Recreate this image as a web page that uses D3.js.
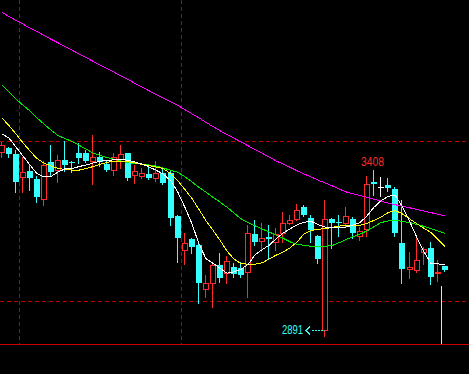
<!DOCTYPE html>
<html>
<head>
<meta charset="utf-8">
<script src="https://cdn.jsdelivr.net/npm/d3@7"></script>
<style>
html, body { margin: 0; padding: 0; background: #000; overflow: hidden; }
svg { display: block; }
</style>
</head>
<body>
<svg id="chart" width="469" height="374"></svg>
<script>
// K线数据 (读自图片)
const opens  = [3466,3478,3459,3388,3406,3381,3319,3434,3409,3441,3434,3462,3462,3438,3450,3428,3409,3444,3462,3394,3391,3397,3384,3400,3400,3266,3159,3194,3175,3038,3056,3113,3088,3106,3103,3091,3209,3188,3200,3184,3213,3244,3256,3294,3259,3203,2909,3256,3248,3244,3256,3203,3225,3372,3356,3362,3350,3181,3100,3097,3153,3166,3088,3109];
const highs  = [3497,3481,3472,3450,3428,3391,3438,3487,3456,3500,3438,3494,3472,3519,3466,3441,3462,3487,3462,3425,3416,3425,3438,3419,3406,3269,3213,3197,3178,3081,3116,3150,3141,3119,3122,3238,3253,3244,3238,3228,3278,3269,3303,3300,3269,3206,3316,3259,3269,3294,3262,3231,3391,3408,3388,3384,3356,3316,3153,3197,3169,3184,3128,3109];
const lows   = [3450,3450,3341,3341,3347,3309,3300,3394,3372,3406,3403,3431,3434,3366,3422,3406,3394,3416,3378,3369,3384,3381,3375,3366,3238,3122,3116,3150,2994,3013,2981,3059,3056,3075,3075,3013,3175,3156,3134,3159,3184,3241,3253,3266,3184,3119,2891,3166,3203,3234,3197,3191,3203,3331,3328,3344,3203,3056,3072,3091,3116,3053,3063,3094];
const closes = [3487,3459,3372,3403,3384,3325,3425,3403,3441,3425,3431,3447,3438,3450,3434,3409,3450,3459,3384,3406,3400,3384,3400,3369,3259,3197,3181,3169,3056,3056,3113,3072,3125,3084,3081,3213,3184,3197,3194,3209,3244,3253,3284,3269,3222,3131,3256,3244,3246,3266,3213,3219,3366,3367,3356,3353,3213,3100,3106,3128,3162,3075,3091,3097];

// 均线
const ma5  = [3522,3509,3481,3453,3425,3398,3388,3389,3403,3413,3414,3420,3425,3431,3437,3439,3441,3442,3440,3434,3428,3419,3409,3397,3375,3339,3292,3241,3178,3132,3118,3102,3087,3091,3099,3114,3144,3160,3174,3194,3212,3225,3238,3246,3249,3239,3231,3229,3228,3231,3237,3245,3266,3293,3313,3327,3331,3297,3246,3198,3154,3117,3116,3113];
const ma10 = [3572,3548,3522,3494,3469,3445,3431,3422,3414,3411,3409,3409,3414,3420,3427,3433,3437,3437,3435,3431,3427,3423,3419,3414,3397,3375,3348,3320,3286,3251,3221,3190,3156,3131,3117,3115,3115,3119,3131,3143,3153,3166,3184,3210,3220,3224,3226,3230,3234,3237,3237,3237,3242,3252,3262,3276,3283,3273,3256,3241,3227,3214,3192,3170];
const ma20 = [3675,3653,3631,3612,3594,3572,3553,3534,3517,3508,3498,3487,3475,3462,3455,3448,3443,3437,3432,3430,3428,3425,3422,3416,3408,3402,3388,3372,3355,3340,3324,3309,3293,3275,3257,3245,3235,3225,3216,3206,3196,3185,3177,3174,3171,3170,3171,3173,3182,3192,3201,3209,3219,3232,3245,3250,3253,3249,3245,3239,3233,3226,3219,3211];
const ma60 = [3902,3889,3877,3865,3853,3842,3830,3818,3807,3795,3784,3772,3761,3749,3738,3726,3715,3703,3692,3680,3669,3657,3645,3634,3622,3611,3598,3585,3572,3558,3545,3532,3520,3509,3497,3485,3473,3462,3450,3438,3428,3418,3407,3397,3388,3378,3369,3360,3350,3341,3335,3330,3324,3318,3312,3306,3301,3296,3291,3286,3281,3276,3271,3266];

const gridPrices = [3500, 3000];
const gridDays = [3, 26];
const markerPrice = 3047;
// 标注的高低点所在K线
const hiMarkIdx = 53;
const loMarkIdx = 46;

const UP = '#ff2a2a', DOWN = '#33ffff', GRID = '#c00000';

const svg = d3.select('#chart');
const plotBottom = 344;

const x = d3.scaleBand().domain(d3.range(opens.length)).range([-1.2, 448.7]).padding(0);
const y = d3.scaleLinear().domain([2865.6, 3940.6]).range([plotBottom, 0]);

const bodyW = 6;
const left = i => Math.round(x(i));
const mid = i => left(i) + 2.5;
const py = v => Math.round(y(v));

// 网格
const grid = svg.append('g').attr('shape-rendering', 'crispEdges');
grid.selectAll('.hg').data(gridPrices).enter().append('line')
    .attr('x1', 0).attr('x2', 469)
    .attr('y1', d => py(d) + 0.5).attr('y2', d => py(d) + 0.5)
    .attr('stroke', GRID).attr('stroke-dasharray', '4,3');
grid.selectAll('.vg').data(gridDays).enter().append('line')
    .attr('x1', d => left(d) - 0.5).attr('x2', d => left(d) - 0.5)
    .attr('y1', 0).attr('y2', plotBottom)
    .attr('stroke', GRID).attr('stroke-dasharray', '4,3');
grid.append('line')
    .attr('x1', 0).attr('x2', 469)
    .attr('y1', plotBottom + 0.5).attr('y2', plotBottom + 0.5)
    .attr('stroke', '#d00000');

// K线
const data = opens.map((o, i) => ({ i, o, h: highs[i], l: lows[i], c: closes[i] }));
const colorOf = d => d.c > d.o ? UP : (d.c < d.o ? DOWN : '#ffffff');

const k = svg.append('g').attr('shape-rendering', 'crispEdges');
const candle = k.selectAll('g').data(data).enter().append('g');

candle.append('line')
    .attr('x1', d => mid(d.i)).attr('x2', d => mid(d.i))
    .attr('y1', d => py(d.h)).attr('y2', d => py(Math.max(d.o, d.c)))
    .attr('stroke', colorOf);
candle.append('line')
    .attr('x1', d => mid(d.i)).attr('x2', d => mid(d.i))
    .attr('y1', d => py(Math.min(d.o, d.c))).attr('y2', d => py(d.l) + 1)
    .attr('stroke', colorOf);

candle.filter(d => d.c > d.o).append('rect')
    .attr('x', d => left(d.i) + 0.5)
    .attr('y', d => py(d.c) + 0.5)
    .attr('width', bodyW - 1)
    .attr('height', d => Math.max(1, py(d.o) - py(d.c)))
    .attr('fill', '#000').attr('stroke', UP);

candle.filter(d => d.c <= d.o).append('rect')
    .attr('x', d => left(d.i))
    .attr('y', d => py(d.o))
    .attr('width', bodyW)
    .attr('height', d => Math.max(1, py(d.c) - py(d.o)))
    .attr('fill', colorOf);

// 均线
const line = d3.line().x((d, i) => mid(i) + 0.5).y(d => y(d));
[[ma60, '#ff00ff'], [ma20, '#00e800'], [ma10, '#ffff00'], [ma5, '#ffffff']].forEach(([arr, col]) => {
    svg.append('path').datum(arr).attr('d', line)
        .attr('fill', 'none').attr('stroke', col).attr('stroke-width', 1)
        .attr('shape-rendering', 'crispEdges');
});

// 标记线
const last = opens.length - 1;
svg.append('line')
    .attr('x1', left(last) - 0.5).attr('x2', left(last) - 0.5)
    .attr('y1', py(markerPrice)).attr('y2', plotBottom)
    .attr('stroke', '#ffff00').attr('shape-rendering', 'crispEdges');

// 高低点标注
svg.append('text')
    .attr('x', mid(hiMarkIdx) - 1).attr('y', py(highs[hiMarkIdx]) - 4)
    .attr('text-anchor', 'middle')
    .attr('font-family', 'Liberation Sans, Arial, sans-serif').attr('font-size', 13)
    .attr('textLength', 23).attr('lengthAdjust', 'spacingAndGlyphs')
    .attr('fill', UP)
    .text(highs[hiMarkIdx]);

const arrowY = py(lows[loMarkIdx]) - 6;
svg.append('text')
    .attr('x', 303).attr('y', arrowY + 4)
    .attr('text-anchor', 'end')
    .attr('font-family', 'Liberation Sans, Arial, sans-serif').attr('font-size', 13)
    .attr('textLength', 21).attr('lengthAdjust', 'spacingAndGlyphs')
    .attr('fill', DOWN)
    .text(lows[loMarkIdx]);
svg.append('path')
    .attr('d', `M310,${arrowY - 3.5}L306,${arrowY + 0.5}L310,${arrowY + 4.5}`)
    .attr('fill', 'none').attr('stroke', DOWN).attr('shape-rendering', 'crispEdges');
svg.append('line')
    .attr('x1', 312).attr('x2', mid(loMarkIdx))
    .attr('y1', arrowY + 0.5).attr('y2', arrowY + 0.5)
    .attr('stroke', DOWN).attr('stroke-dasharray', '2,1');
</script>
</body>
</html>
